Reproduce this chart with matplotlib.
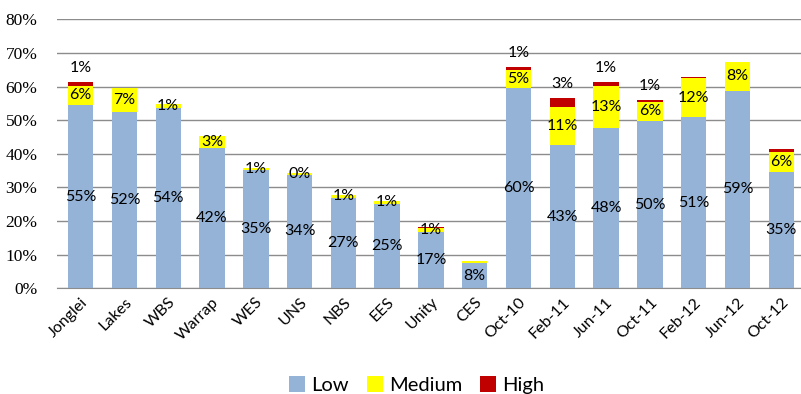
import matplotlib
matplotlib.use("Agg")
from matplotlib import pyplot as plt
from matplotlib.ticker import PercentFormatter
import numpy as np

# Data (percent)
categories = ['Jonglei', 'Lakes', 'WBS', 'Warrap', 'WES', 'UNS', 'NBS', 'EES', 'Unity', 'CES',
              'Oct-10', 'Feb-11', 'Jun-11', 'Oct-11', 'Feb-12', 'Jun-12', 'Oct-12']
low = [54.6, 52.3, 53.6, 41.8, 35.3, 33.8, 27.0, 25.2, 16.8, 7.6,
       59.7, 42.7, 47.6, 49.8, 50.8, 58.8, 34.7]
medium = [5.6, 7.3, 1.2, 3.4, 0.6, 0.4, 0.7, 0.9, 1.0, 0.4,
          5.3, 11.1, 12.6, 5.6, 11.6, 8.4, 5.9]
high = [1.2, 0.0, 0.0, 0.0, 0.0, 0.0, 0.0, 0.0, 0.3, 0.0,
        0.8, 2.7, 1.3, 0.7, 0.3, 0.0, 0.7]
# labels Excel actually showed for the thin "High" segments
high_labels = ['1%', '', '', '', '', '', '', '', '', '',
               '1%', '3%', '1%', '1%', '', '', '']
medium_shown = [True, True, True, True, True, True, True, True, True, False,
                True, True, True, True, True, True, True]

c_low = '#95b3d7'
c_med = '#ffff00'
c_high = '#c00000'
lab_font = 'Lato'

fig = plt.figure(figsize=(8.01, 3.94), dpi=100)
ax = fig.add_axes([57 / 801, 105.7 / 394, 1 - 57 / 801, 269 / 394])

x = np.arange(len(categories))
w = 0.58
low_a = np.array(low)
med_a = np.array(medium)
high_a = np.array(high)

ax.bar(x, low_a, w, color=c_low, label='Low', zorder=2)
ax.bar(x, med_a, w, bottom=low_a, color=c_med, label='Medium', zorder=2)
ax.bar(x, high_a, w, bottom=low_a + med_a, color=c_high, label='High', zorder=2)

# data labels
for i in range(len(categories)):
    ax.text(x[i], low_a[i] / 2, f"{low_a[i]:.0f}%", ha='center', va='center',
            fontsize=11.5, family=lab_font, zorder=3)
    if medium_shown[i]:
        ax.text(x[i], low_a[i] + med_a[i] / 2, f"{med_a[i]:.0f}%", ha='center', va='center',
                fontsize=11.5, family=lab_font, zorder=3)
    if high_labels[i]:
        top = low_a[i] + med_a[i] + high_a[i]
        ax.annotate(high_labels[i], (x[i], top), xytext=(0, 5), textcoords='offset points',
                    ha='center', va='bottom', fontsize=11.5, family=lab_font, zorder=3)

ax.set_ylim(0, 80)
ax.set_xlim(-0.54, 16.45)
ax.set_yticks(np.arange(0, 81, 10))
ax.yaxis.set_major_formatter(PercentFormatter(decimals=0))
ax.yaxis.grid(True, color='#8c8c8c', linewidth=1, zorder=0)
ax.set_axisbelow(True)

for s in ['top', 'right', 'left']:
    ax.spines[s].set_visible(False)
ax.spines['bottom'].set_color('#8c8c8c')

ax.tick_params(axis='y', length=0, pad=14)
ax.tick_params(axis='x', length=0, pad=5)
for t in ax.get_yticklabels():
    t.set_family('Liberation Serif')
    t.set_fontsize(12.5)

ax.set_xticks(x)
ax.set_xticklabels(categories, rotation=45, ha='right', rotation_mode='anchor',
                   fontsize=11.5, family=lab_font)

fig.legend(loc='center', bbox_to_anchor=(0.52, 0.022), ncol=3, frameon=False,
           prop={'family': lab_font, 'size': 14.5}, handlelength=0.8, handleheight=0.8,
           handletextpad=0.3, columnspacing=0.9)

plt.savefig('out.png', dpi=100)
